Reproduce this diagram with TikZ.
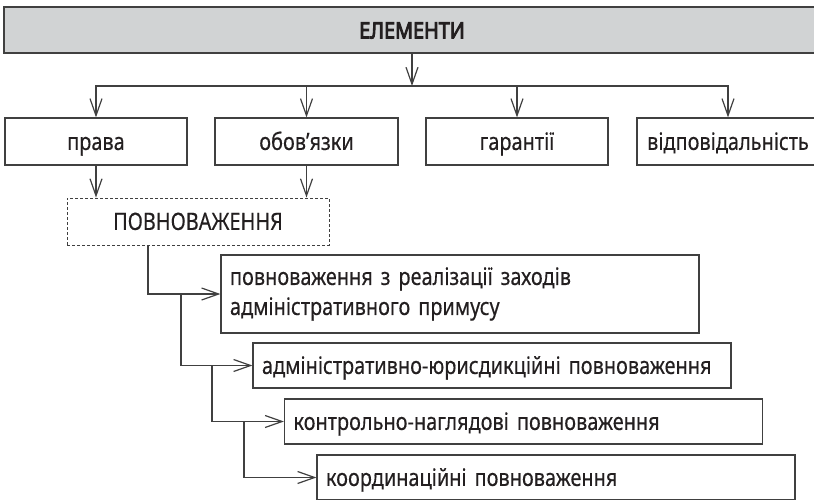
\documentclass[tikz,border=0pt]{standalone}
\usepackage{fontspec}
\setmainfont{Noto Sans}[FakeStretch=0.83,FakeBold=0.3]
\newfontfamily\titlefont{Noto Sans}[FakeStretch=0.88,FakeBold=4]
\usetikzlibrary{arrows.meta,calc}
\definecolor{linegray}{HTML}{404040}
\definecolor{boxgray}{HTML}{D1D3D4}
\definecolor{txt}{HTML}{231F20}
\begin{document}
\begin{tikzpicture}[x=1pt,y=-1pt,
  line width=1.2pt,
  every node/.style={font=\fontsize{24}{30}\selectfont, text=txt},
  oneline/.style={text height=21.4pt, text depth=4.5pt},
  topbox/.style={draw=linegray, fill=boxgray, minimum width=816pt, minimum height=46pt, inner sep=0pt, oneline, font=\fontsize{22.5}{30}\titlefont},
  elbox/.style={draw=linegray, minimum height=47pt, inner sep=0pt, oneline},
  dbox/.style={draw=linegray, dash pattern=on 3pt off 2pt, line width=1pt, minimum width=262pt, minimum height=47pt, inner sep=0pt, oneline},
  lbox/.style={draw=linegray, inner xsep=9pt, inner ysep=0pt, text width=460pt, align=left},
  arr/.style={draw=linegray, -{Straight Barb[length=17pt,width=12pt,line width=1.2pt]}}
]
\useasboundingbox (0,0) rectangle (814,499);
\node[topbox] (top) at (412,30) {ЕЛЕМЕНТИ};
\node[elbox, minimum width=182pt] (prava) at (96,141.5) {права};
\node[elbox, minimum width=183pt] (obov) at (306.5,141.5) {обов’язки};
\node[elbox, minimum width=182pt] (garant) at (517,141.5) {гарантії};
\node[elbox, minimum width=182pt] (vidp) at (728,141.5) {відповідальність};
\node[dbox] (pov) at (198,221.5) {ПОВНОВАЖЕННЯ};
\node[lbox, minimum height=78pt] (b1) at (460,294) {повноваження з реалізації заходів\\адміністративного примусу};
\node[lbox, minimum height=45pt, oneline] (b2) at (492,365.5) {\mbox{адміністративно-юрисдикційні повноваження}};
\node[lbox, minimum height=45pt, oneline] (b3) at (523.5,421.5) {\mbox{контрольно-наглядові повноваження}};
\node[lbox, minimum height=45pt, oneline] (b4) at (556,477.5) {\mbox{координаційні повноваження}};
\coordinate (hub) at (412,86);
\draw[arr] (top.south) -- (hub);
\draw[arr] (hub) -| (prava.north);
\draw[arr] (hub) -| (obov.north);
\draw[arr] (hub) -| (garant.north);
\draw[arr] (hub) -| (vidp.north);
\draw[arr] (prava.south) -- (prava.south |- pov.north);
\draw[arr] (obov.south) -- (obov.south |- pov.north);
\coordinate (p0) at ([xshift=-50pt]pov.south);
\coordinate (j1) at (181,294);
\coordinate (j2) at (212,365.5);
\coordinate (j3) at (244,421.5);
\draw[arr] (p0) |- (b1.west);
\draw[arr] (j1) |- (b2.west);
\draw[arr] (j2) |- (b3.west);
\draw[arr] (j3) |- (b4.west);
\end{tikzpicture}
\end{document}
